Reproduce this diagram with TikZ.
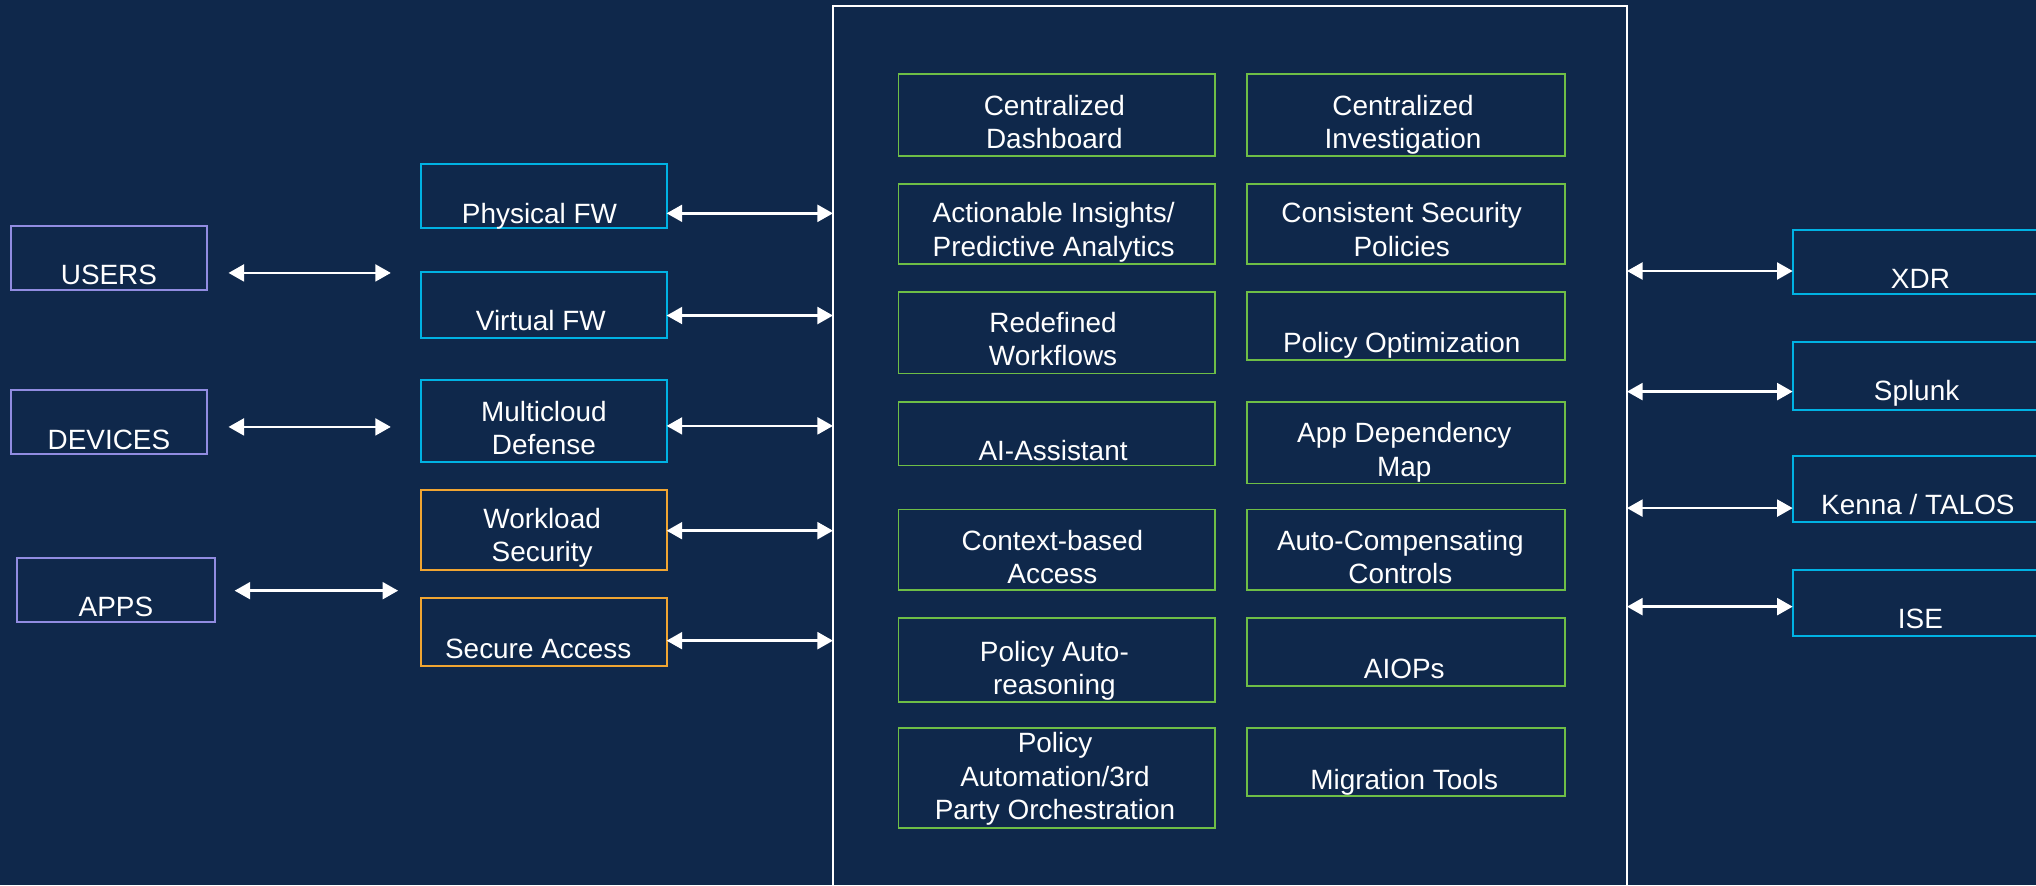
\documentclass[tikz,border=0pt]{standalone}
\usepackage{fontspec}
\setmainfont{Liberation Sans}
\usetikzlibrary{arrows.meta}
\definecolor{bg}{RGB}{15,40,75}
\definecolor{lav}{RGB}{145,140,225}
\definecolor{cy}{RGB}{0,178,227}
\definecolor{orng}{RGB}{240,165,50}
\definecolor{grn}{RGB}{110,190,70}
\tikzset{
 box/.style={draw, line width=1.4pt, inner sep=0pt, outer sep=0pt, anchor=north west},
 lav/.style={box, draw=lav},
 cyb/.style={box, draw=cy},
 orb/.style={box, draw=orng},
 grb/.style={box, draw=grn},
 txt/.style={text=white, font=\fontsize{21.5}{25.5}\selectfont, align=center, inner sep=0pt,
   execute at begin node=\strut, execute at end node=\strut},
 arr/.style={draw=white, line width=2pt, {Triangle[length=12pt,width=13pt]}-{Triangle[length=12pt,width=13pt]}},
}
\begin{document}
\begin{tikzpicture}[x=1pt,y=-1pt]
\useasboundingbox (0,0) rectangle (1568,681.6);
\fill[bg] (0,0) rectangle (1568,681.6);
% big frame
\node[box, draw=white, line width=1.5pt, minimum width=611.5pt, minimum height=720pt] (big) at (641.5,4.4) {};
% left boxes
\node[lav, minimum width=151.2pt, minimum height=49.3pt] (users) at (8.3,174) {};
\node[lav, minimum width=151.2pt, minimum height=49.3pt] (devices) at (8.3,300.3) {};
\node[lav, minimum width=152pt, minimum height=49.5pt] (apps) at (13.3,429.5) {};
\node[txt] (usersT) at (83.9,214) {USERS};
\node[txt] (devicesT) at (83.9,340.8) {DEVICES};
\node[txt] (appsT) at (89.3,469.7) {APPS};
% middle boxes
\node[cyb, minimum width=189.1pt, minimum height=49.3pt] (pfw) at (324.3,126.3) {};
\node[cyb, minimum width=189.1pt, minimum height=50.8pt] (vfw) at (324.3,209.5) {};
\node[cyb, minimum width=189.1pt, minimum height=63.2pt] (mcd) at (324.3,292.6) {};
\node[orb, minimum width=189.1pt, minimum height=61.6pt] (wls) at (324.3,377.4) {};
\node[orb, minimum width=189.1pt, minimum height=52.1pt] (sac) at (324.3,460.8) {};
\node[txt] (pfwT) at (415.5,166.9) {Physical FW};
\node[txt] (vfwT) at (416.5,249.8) {Virtual FW};
\node[txt] (mcdT) at (418.9,333.5) {Multicloud\\Defense};
\node[txt] (wlsT) at (417.5,415.6) {Workload\\Security};
\node[txt] (sacT) at (414.5,501.9) {Secure Access};
% right boxes
\node[cyb, minimum width=194.4pt, minimum height=49.4pt] (xdr) at (1380.6,177) {};
\node[cyb, minimum width=194.4pt, minimum height=52.3pt] (spl) at (1380.6,263.4) {};
\node[cyb, minimum width=194.4pt, minimum height=50.8pt] (ken) at (1380.6,351.2) {};
\node[cyb, minimum width=194.4pt, minimum height=50.8pt] (ise) at (1380.6,439) {};
\node[txt] (xdrT) at (1479,216.9) {XDR};
\node[txt] (splT) at (1476,303.5) {Splunk};
\node[txt] (kenT) at (1477,391.5) {Kenna / TALOS};
\node[txt] (iseT) at (1479,478.8) {ISE};
% green boxes
\node[grb, minimum width=243.6pt, minimum height=63pt] (g11) at (692,57) {};
\node[grb, minimum width=244.9pt, minimum height=63pt] (g12) at (960.6,57) {};
\node[grb, minimum width=243.6pt, minimum height=61.7pt] (g21) at (692,141.7) {};
\node[grb, minimum width=244.9pt, minimum height=61.7pt] (g22) at (960.6,141.7) {};
\node[grb, minimum width=243.6pt, minimum height=62.6pt] (g31) at (692,225.1) {};
\node[grb, minimum width=244.9pt, minimum height=52pt] (g32) at (960.6,225.1) {};
\node[grb, minimum width=243.6pt, minimum height=49.1pt] (g41) at (692,309.4) {};
\node[grb, minimum width=244.9pt, minimum height=63pt] (g42) at (960.6,309.4) {};
\node[grb, minimum width=243.6pt, minimum height=61.7pt] (g51) at (692,392.4) {};
\node[grb, minimum width=244.9pt, minimum height=61.7pt] (g52) at (960.6,392.4) {};
\node[grb, minimum width=243.6pt, minimum height=64.7pt] (g61) at (692,475.9) {};
\node[grb, minimum width=244.9pt, minimum height=52.1pt] (g62) at (960.6,475.9) {};
\node[grb, minimum width=243.6pt, minimum height=76.9pt] (g71) at (692,560.6) {};
\node[grb, minimum width=244.9pt, minimum height=52.2pt] (g72) at (960.6,560.6) {};
\node[txt] (g11T) at (812,97.5) {Centralized\\Dashboard};
\node[txt] (g12T) at (1080.5,97.5) {Centralized\\Investigation};
\node[txt] (g21T) at (811.5,180.5) {Actionable Insights/\\Predictive Analytics};
\node[txt] (g22T) at (1079.5,180.5) {Consistent Security\\Policies};
\node[txt] (g31T) at (811,264.9) {Redefined\\Workflows};
\node[txt] (g32T) at (1079.5,266) {Policy Optimization};
\node[txt] (g41T) at (811,349.9) {AI-Assistant};
\node[txt] (g42T) at (1081.5,349.9) {App Dependency\\Map};
\node[txt] (g51T) at (810.5,432.5) {Context-based\\Access};
\node[txt] (g52T) at (1078.5,432.5) {Auto-Compensating\\Controls};
\node[txt] (g61T) at (812,518) {Policy Auto-\\reasoning};
\node[txt] (g62T) at (1081.5,517.7) {AIOPs};
\node[txt] (g71T) at (812.5,601.4) {Policy\\Automation/3rd\\Party Orchestration};
\node[txt] (g72T) at (1081.5,602.8) {Migration Tools};
% left arrows
\coordinate (ua) at (176,210.2); \coordinate (ub) at (301,210.2);
\coordinate (da) at (176,328.8); \coordinate (db) at (301,328.8);
\coordinate (aa) at (180.7,454.9); \coordinate (ab) at (306.6,454.9);
\draw[arr] (ua) -- (ub);
\draw[arr] (da) -- (db);
\draw[arr] (aa) -- (ab);
% middle arrows
\draw[arr] (pfw.east |- 0,164.3) -- (big.west |- 0,164.3);
\draw[arr] (vfw.east |- 0,243) -- (big.west |- 0,243);
\draw[arr] (mcd.east |- 0,328) -- (big.west |- 0,328);
\draw[arr] (wls.east |- 0,408.7) -- (big.west |- 0,408.7);
\draw[arr] (sac.east |- 0,493.4) -- (big.west |- 0,493.4);
% right arrows
\draw[arr] (big.east |- 0,208.7) -- (xdr.west |- 0,208.7);
\draw[arr] (big.east |- 0,301.6) -- (spl.west |- 0,301.6);
\draw[arr] (big.east |- 0,391.3) -- (ken.west |- 0,391.3);
\draw[arr] (big.east |- 0,467.2) -- (ise.west |- 0,467.2);
\end{tikzpicture}
\end{document}
